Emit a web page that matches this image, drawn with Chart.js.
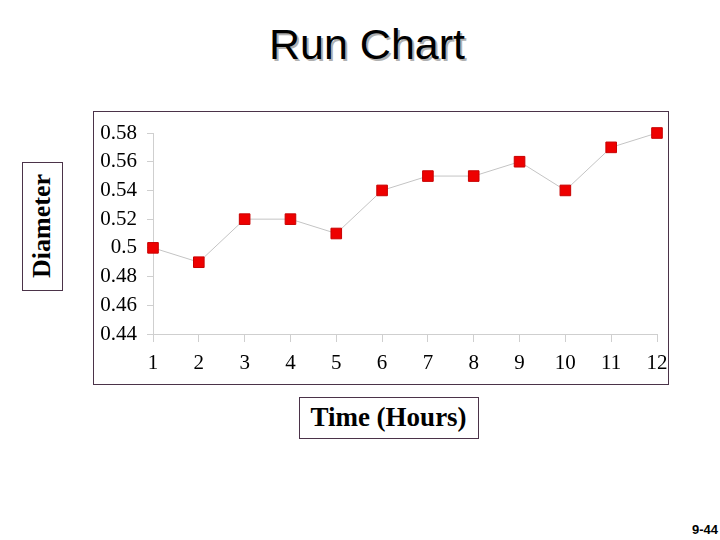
<!DOCTYPE html>
<html>
<head>
<meta charset="utf-8">
<script src="https://cdn.jsdelivr.net/npm/chart.js@4"></script>
<style>
  html, body { margin: 0; padding: 0; background: #fff; }
  body { width: 720px; height: 540px; position: relative; overflow: hidden; }
  .box { position: absolute; border: 1.5px solid #4b3349; box-sizing: border-box; }
  #title { position: absolute; left: 0; width: 734px; top: 18px; text-align: center;
    font-family: "Liberation Sans", Arial, sans-serif; font-size: 43px; color: #000;
    text-shadow: 2px 2px 0 #b0b0b0; line-height: 52px; }
  #ylab { position: absolute; left: 42px; top: 226px; width: 128px; height: 40px;
    margin-left: -64px; margin-top: -20px; transform: rotate(-90deg);
    font-family: "Liberation Serif", "Times New Roman", serif; font-weight: bold; font-size: 26px;
    text-align: center; line-height: 40px; }
  #xlab { position: absolute; left: 299px; top: 397px; width: 179px; height: 41px;
    font-family: "Liberation Serif", "Times New Roman", serif; font-weight: bold; font-size: 27px;
    text-align: center; line-height: 41px; }
  #page { position: absolute; right: 2px; top: 522px; font-family: "Liberation Sans", Arial, sans-serif;
    font-weight: bold; font-size: 13px; }
  canvas { position: absolute; left: 0; top: 0; }
</style>
</head>
<body>
<div id="title">Run Chart</div>
<div class="box" style="left:22px;top:162px;width:41px;height:129px;"></div>
<div id="ylab">Diameter</div>
<div class="box" style="left:93px;top:111px;width:576px;height:274px;"></div>
<div class="box" style="left:299px;top:397px;width:180px;height:42px;"></div>
<div id="xlab">Time (Hours)</div>
<div id="page">9-44</div>
<canvas id="c" width="720" height="540"></canvas>
<script>
const hours = ['1','2','3','4','5','6','7','8','9','10','11','12'];
const diameters = [0.50, 0.49, 0.52, 0.52, 0.51, 0.54, 0.55, 0.55, 0.56, 0.54, 0.57, 0.58];
const yTickLabels = ['0.44','0.46','0.48','0.5','0.52','0.54','0.56','0.58'];

const serif = '"Liberation Serif", "Times New Roman", serif';

new Chart(document.getElementById('c'), {
  type: 'line',
  data: {
    labels: hours,
    datasets: [{
      data: diameters,
      clip: false,
      borderColor: '#c4c4c4',
      borderWidth: 1,
      tension: 0,
      pointStyle: 'rect',
      pointRadius: 7.5,
      pointHoverRadius: 7.5,
      pointBackgroundColor: '#ee0000',
      pointBorderColor: '#c80000',
      pointBorderWidth: 1
    }]
  },
  options: {
    responsive: false,
    animation: false,
    devicePixelRatio: 1,
    plugins: { legend: { display: false }, tooltip: { enabled: false } },
    layout: { autoPadding: false, padding: { left: 93, right: 63, top: 133, bottom: 156 } },
    scales: {
      x: {
        type: 'category',
        offset: false,
        afterFit: s => { s.height = 50; },
        grid: { drawOnChartArea: false, drawTicks: true, tickLength: 8, color: '#cfcfcf' },
        border: { color: '#cfcfcf' },
        ticks: { color: '#000', font: { family: serif, size: 21 }, padding: 9, maxRotation: 0, autoSkip: false }
      },
      y: {
        min: 0.44, max: 0.58,
        afterFit: s => { s.width = 60; },
        afterBuildTicks: s => { s.ticks = yTickLabels.map(t => ({ value: parseFloat(t) })); },
        grid: { drawOnChartArea: false, drawTicks: true, tickLength: 6, color: '#cfcfcf' },
        border: { color: '#cfcfcf' },
        ticks: {
          color: '#000', font: { family: serif, size: 21 }, padding: 10,
          callback: (v, i) => yTickLabels[i]
        }
      }
    }
  }
});
</script>
</body>
</html>
